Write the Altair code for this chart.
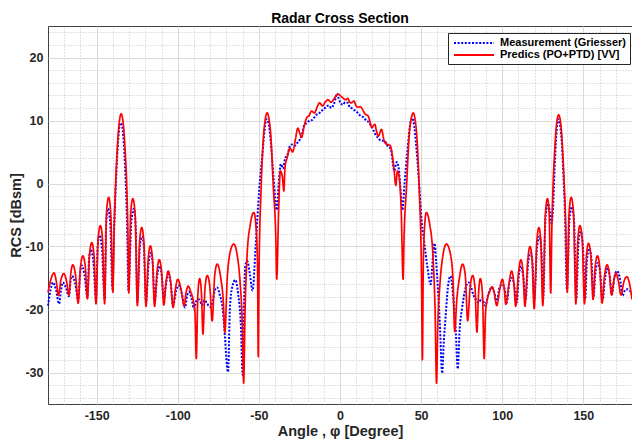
import altair as alt
import pandas as pd

MEAS = "Measurement (Griesser)"
PRED = "Predics (PO+PTD) [VV]"

# Predics (PO+PTD) [VV] -- angle [deg], RCS [dBsm]
red_angle = [
    -180.0, -178.2, -176.3, -174.9, -173.6, -172.0, -170.2, -168.5, -167.1, -165.9,
    -164.7, -163.0, -161.4, -160.0, -158.5, -157.0, -155.7, -154.4, -153.0, -151.6,
    -150.4, -149.1, -147.7, -146.4, -145.1, -143.9, -142.6, -141.3, -140.0, -139.2,
    -138.3, -137.3, -136.3, -134.9, -133.5, -132.5, -131.5, -130.8, -130.2, -129.0,
    -127.7, -126.3, -124.9, -123.5, -122.2, -120.9, -119.6, -118.2, -116.9, -115.6,
    -114.3, -112.8, -111.4, -110.0, -108.6, -107.2, -105.9, -104.4, -102.9, -101.5,
    -100.0, -98.0, -96.1, -94.8, -93.5, -92.0, -90.6, -89.4, -88.6, -87.6,
    -86.5, -85.4, -84.5, -83.2, -81.8, -80.2, -78.8, -77.2, -75.7, -73.5,
    -72.0, -71.0, -69.5, -67.8, -65.5, -63.3, -61.5, -60.2, -59.4, -58.5,
    -57.3, -55.3, -53.1, -51.6, -50.8, -50.4, -49.9, -48.6, -47.2, -46.0,
    -44.9, -43.8, -42.7, -41.1, -39.6, -39.0, -37.8, -36.8, -35.6, -34.6,
    -33.9, -32.5, -30.8, -29.2, -27.5, -26.0, -24.8, -23.7, -22.0, -20.6,
    -19.0, -17.6, -15.7, -14.0, -12.5, -10.8, -8.9, -7.4, -5.6, -4.3,
    -2.8, -1.3, 0.0, 0.8, 2.2, 3.5, 4.8, 6.0, 6.9, 8.5,
    10.0, 11.0, 12.5, 14.0, 15.0, 16.1, 17.1, 18.1, 19.5, 21.5,
    22.5, 23.6, 25.6, 27.0, 28.3, 29.5, 31.0, 32.5, 33.4, 34.4,
    35.4, 36.5, 37.7, 38.9, 39.5, 41.0, 42.7, 43.9, 45.2, 46.2,
    47.4, 48.8, 50.2, 50.8, 51.3, 52.0, 53.2, 55.3, 57.3, 58.6,
    59.5, 60.3, 61.6, 63.4, 65.6, 67.9, 69.6, 70.7, 72.0, 73.6,
    75.6, 77.2, 78.7, 80.2, 81.8, 83.2, 84.4, 85.4, 86.5, 87.8,
    88.9, 89.7, 90.8, 92.2, 93.6, 95.0, 96.6, 98.5, 100.1, 101.2,
    102.2, 104.3, 105.8, 107.1, 108.3, 110.1, 111.5, 112.8, 114.0, 115.8,
    117.1, 118.4, 119.7, 121.3, 122.6, 123.8, 125.0, 126.6, 127.9, 128.9,
    129.9, 130.6, 131.4, 132.4, 133.4, 134.8, 136.2, 137.2, 138.2, 139.2,
    140.1, 141.2, 142.5, 143.9, 145.4, 146.6, 147.9, 149.3, 150.7, 151.9,
    153.2, 154.6, 156.0, 157.3, 158.7, 160.1, 161.5, 163.1, 164.6, 166.0,
    167.4, 168.7, 170.1, 171.6, 173.2, 175.0, 176.8, 178.4, 180.0,
]
red_rcs = [
    -17.3, -15.2, -14.2, -15.5, -17.8, -15.3, -14.3, -15.6, -17.7, -14.2,
    -12.9, -14.6, -19.0, -13.3, -11.5, -13.2, -18.3, -11.3, -9.4, -11.5,
    -19.1, -8.8, -6.7, -9.0, -19.1, -4.5, -2.2, -4.8, -17.3, -7.0,
    0.0, 5.5, 9.2, 11.05, 9.2, 5.5, 0.0, -7.0, -17.4, -4.6,
    -2.4, -4.9, -19.4, -9.2, -7.0, -9.3, -19.5, -11.9, -9.9, -12.0,
    -19.5, -14.0, -12.1, -14.0, -19.3, -15.6, -13.9, -15.6, -19.7, -16.8,
    -15.2, -16.8, -19.4, -17.2, -16.3, -17.2, -18.4, -20.5, -27.8, -17.5,
    -15.1, -17.5, -23.9, -16.5, -14.6, -16.5, -21.8, -14.5, -12.8, -15.0,
    -18.5, -23.6, -15.0, -11.0, -9.6, -11.5, -16.0, -22.5, -31.7, -20.0,
    -11.5, -6.5, -4.6, -7.5, -14.0, -27.5, -14.0, -0.6, 7.3, 10.3,
    11.2, 10.3, 7.8, -0.6, -8.4, -15.2, -4.0, 2.0, 1.2, -1.2,
    2.5, 4.2, 5.6, 5.0, 7.0, 8.8, 8.0, 7.3, 9.2, 10.4,
    10.8, 11.5, 11.2, 12.2, 12.8, 12.3, 13.0, 13.3, 12.9, 13.2,
    13.8, 14.2, 14.0, 13.8, 13.5, 13.3, 13.5, 12.9, 12.8, 13.1,
    12.3, 12.1, 12.2, 11.7, 11.2, 10.9, 10.8, 10.2, 8.9, 9.4,
    8.3, 7.5, 8.6, 7.0, 6.3, 6.2, 6.0, 4.0, 2.0, -0.3,
    2.0, 1.0, -4.0, -15.2, -8.4, -0.6, 7.8, 10.3, 11.2, 10.3,
    7.3, -0.6, -14.0, -28.0, -14.0, -7.5, -4.6, -6.5, -11.5, -20.0,
    -31.7, -22.5, -16.0, -11.5, -9.6, -11.0, -15.0, -23.5, -18.5, -15.0,
    -12.8, -14.5, -21.8, -16.5, -14.6, -16.5, -23.6, -17.5, -15.1, -17.5,
    -27.8, -20.5, -18.4, -17.2, -16.4, -17.2, -19.4, -16.8, -15.2, -16.6,
    -19.2, -15.6, -13.9, -15.6, -19.5, -14.0, -12.1, -14.0, -19.5, -12.0,
    -10.0, -12.0, -19.9, -9.3, -7.0, -9.2, -19.4, -4.9, -2.4, -4.6,
    -17.4, -7.0, 0.0, 5.5, 9.2, 10.9, 9.2, 5.5, 0.0, -7.0,
    -17.3, -4.8, -2.2, -4.5, -19.1, -9.0, -6.7, -8.8, -19.1, -11.5,
    -9.5, -11.4, -18.4, -13.2, -11.5, -13.3, -19.0, -14.6, -12.9, -14.2,
    -17.7, -15.6, -14.2, -15.5, -17.7, -15.6, -14.8, -15.8, -18.4,
]

# Measurement (Griesser) -- angle [deg], RCS [dBsm]
blue_angle = [
    -180.0, -178.5, -176.9, -175.0, -173.2, -172.0, -170.8, -169.0, -167.1, -166.1,
    -165.1, -163.3, -161.4, -160.3, -159.2, -157.5, -155.7, -154.7, -153.6, -152.0,
    -150.4, -149.4, -148.3, -146.7, -145.1, -144.1, -143.0, -141.6, -140.2, -139.3,
    -138.3, -137.3, -136.4, -135.5, -134.5, -133.3, -132.3, -131.3, -130.4, -128.6,
    -127.1, -126.0, -124.9, -123.4, -122.0, -120.8, -119.6, -117.9, -116.5, -115.4,
    -114.3, -112.6, -111.0, -109.8, -108.6, -107.1, -105.7, -104.3, -102.9, -101.0,
    -99.5, -97.5, -95.5, -94.3, -93.1, -91.5, -90.0, -88.5, -86.9, -85.0,
    -83.5, -82.0, -80.3, -78.8, -77.2, -75.7, -74.0, -72.5, -71.6, -69.0,
    -67.9, -66.5, -64.5, -62.8, -61.2, -60.0, -59.2, -58.4, -57.2, -55.5,
    -53.9, -51.9, -49.8, -47.8, -46.5, -45.3, -44.0, -42.8, -41.0, -39.0,
    -37.8, -36.4, -35.2, -33.9, -32.3, -30.8, -29.8, -28.0, -26.5, -24.7,
    -23.3, -21.8, -20.2, -18.8, -17.0, -15.8, -14.5, -13.0, -11.5, -10.0,
    -8.5, -7.0, -5.4, -3.5, -1.7, -0.8, 0.3, 1.7, 3.2, 4.8,
    6.0, 6.9, 8.5, 9.9, 11.5, 13.0, 14.5, 16.1, 17.5, 19.1,
    20.5, 22.2, 23.8, 25.2, 27.3, 29.3, 31.4, 32.4, 33.4, 35.0,
    36.2, 37.2, 38.5, 39.8, 41.5, 43.6, 44.6, 45.8, 46.8, 48.5,
    50.5, 52.0, 53.8, 55.9, 57.2, 58.3, 59.3, 61.5, 63.0, 64.0,
    65.0, 66.5, 68.1, 70.1, 71.3, 72.6, 73.8, 75.2, 77.5, 79.3,
    80.8, 82.4, 84.0, 85.4, 87.5, 89.5, 91.5, 93.6, 95.0, 96.6,
    98.3, 100.1, 101.5, 102.8, 104.4, 105.8, 107.3, 108.9, 110.3, 111.5,
    113.0, 114.4, 116.0, 117.5, 118.7, 119.7, 121.5, 123.0, 124.1, 125.2,
    126.8, 128.3, 129.3, 130.3, 131.3, 132.3, 133.3, 134.4, 135.5, 136.6,
    137.6, 138.6, 139.9, 141.5, 143.0, 144.3, 145.6, 147.0, 148.3, 149.7,
    151.1, 152.3, 153.6, 155.0, 156.2, 157.5, 158.9, 160.4, 161.9, 163.5,
    165.0, 166.3, 167.6, 169.2, 170.7, 172.5, 174.2, 175.8, 177.2, 180.0,
]
blue_rcs = [
    -19.4, -17.0, -15.7, -17.0, -19.1, -17.0, -15.7, -16.5, -17.9, -15.5,
    -14.7, -15.8, -18.4, -14.5, -13.0, -14.5, -18.1, -12.0, -10.5, -12.5,
    -18.4, -10.0, -8.2, -10.5, -18.4, -6.0, -4.0, -6.5, -16.8, -8.0,
    -1.0, 4.5, 8.0, 9.6, 9.3, 6.5, 1.5, -6.0, -17.0, -6.0,
    -4.0, -6.5, -18.9, -10.0, -8.4, -10.5, -18.9, -12.5, -11.0, -12.8,
    -18.9, -14.5, -13.1, -14.8, -18.4, -15.6, -14.4, -16.0, -19.4, -17.0,
    -16.2, -17.5, -19.7, -17.8, -17.2, -18.3, -19.9, -18.6, -18.4, -19.3,
    -18.5, -19.0, -19.6, -19.1, -17.0, -16.5, -17.8, -19.5, -22.0, -29.9,
    -20.0, -16.5, -15.3, -17.5, -22.0, -30.4, -20.0, -13.1, -12.3, -14.5,
    -17.0, -9.5, -1.0, 4.7, 8.5, 10.2, 9.5, 7.0, 1.0, -4.2,
    0.0, 3.1, 2.4, 3.9, 4.6, 6.0, 6.2, 6.0, 6.4, 7.0,
    8.0, 9.4, 9.6, 10.0, 10.1, 10.5, 10.9, 11.1, 11.5, 11.8,
    12.2, 12.4, 12.0, 12.8, 14.3, 13.5, 12.8, 12.5, 12.9, 12.8,
    12.1, 12.0, 11.7, 11.5, 11.0, 10.7, 10.5, 10.0, 9.8, 9.2,
    8.5, 7.6, 7.2, 6.8, 6.8, 6.0, 5.4, 3.6, 2.0, 3.4,
    2.4, -0.5, -4.2, 0.0, 5.0, 9.9, 10.4, 9.0, 6.5, 1.0,
    -6.5, -9.5, -13.1, -16.0, -12.0, -9.5, -12.5, -22.0, -30.1, -25.0,
    -21.5, -16.5, -14.7, -18.9, -23.0, -29.4, -23.0, -19.9, -16.5, -15.7,
    -16.5, -17.8, -18.5, -18.9, -18.2, -19.4, -17.5, -16.5, -17.2, -18.9,
    -16.5, -16.0, -16.8, -18.9, -15.8, -15.0, -16.0, -18.9, -14.5, -13.1,
    -14.8, -18.4, -12.5, -11.0, -12.8, -18.6, -10.0, -8.4, -10.5, -18.4,
    -5.0, -3.2, -4.5, -6.3, -4.0, 2.5, 7.5, 10.2, 9.5, 7.0,
    2.0, -4.0, -16.8, -5.5, -3.7, -6.0, -18.4, -9.5, -7.6, -9.8,
    -18.4, -12.0, -10.3, -12.0, -18.1, -14.0, -12.6, -14.2, -18.4, -14.8,
    -13.4, -14.8, -17.6, -14.8, -13.9, -15.0, -17.8, -16.9, -16.8, -17.5,
]

x_major = [-150, -100, -50, 0, 50, 100, 150]
x_minor = [v for v in range(-170, 180, 10) if v % 50 != 0]
y_major = [-30, -20, -10, 0, 10, 20]
y_minor = [v for v in range(-34, 25, 2) if v % 10 != 0]

df = pd.concat([
    pd.DataFrame({"angle": blue_angle, "rcs": blue_rcs, "series": MEAS}),
    pd.DataFrame({"angle": red_angle, "rcs": red_rcs, "series": PRED}),
], ignore_index=True)

FONT = "Liberation Sans"
xs = alt.Scale(domain=[-180, 180], nice=False, zero=False)
ys = alt.Scale(domain=[-35, 25], nice=False, zero=False)


def make_legend():
    return alt.Legend(
        title=None, orient="none", legendX=400, legendY=7,
        symbolType="M-4,0L4,0", symbolSize=100, symbolStrokeWidth=2, symbolOffset=16,
        labelOffset=20,
        labelFont=FONT, labelFontSize=11, labelFontWeight="bold", labelColor="#000000",
        labelLimit=400, padding=4, rowPadding=1,
        fillColor="#ffffff", strokeColor="#262626",
    )


color = alt.Color(
    "series:N",
    scale=alt.Scale(domain=[MEAS, PRED], range=["#0000ff", "#ff0000"]),
    legend=make_legend(),
)
dash = alt.StrokeDash(
    "series:N",
    scale=alt.Scale(domain=[MEAS, PRED], range=[[2, 1.6], [1, 0]]),
    legend=make_legend(),
)

minor_x = alt.Axis(orient="top", values=x_minor, labels=False, ticks=False, domain=False,
                   grid=True, gridColor="#c4c4c4", gridDash=[1, 2], gridWidth=1, title=None)
minor_y = alt.Axis(orient="right", values=y_minor, labels=False, ticks=False, domain=False,
                   grid=True, gridColor="#c4c4c4", gridDash=[1, 2], gridWidth=1, title=None)
major_x = alt.Axis(orient="bottom", values=x_major, ticks=False, domain=False, grid=True,
                   gridColor="#dadada", gridWidth=1, title="Angle , φ  [Degree]",
                   labelExpr="'' + datum.value",
                   labelFont=FONT, labelFontSize=12.5, labelFontWeight="bold", labelColor="#262626",
                   labelPadding=5, titleFont=FONT, titleFontSize=14.5, titleFontWeight="bold",
                   titleColor="#262626", titlePadding=3)
major_y = alt.Axis(orient="left", values=y_major, ticks=False, domain=False, grid=True,
                   gridColor="#dadada", gridWidth=1, title="RCS [dBsm]",
                   labelExpr="'' + datum.value",
                   labelFont=FONT, labelFontSize=12.5, labelFontWeight="bold", labelColor="#262626",
                   labelPadding=5, titleFont=FONT, titleFontSize=14.5, titleFontWeight="bold",
                   titleColor="#262626", titlePadding=1)

base = alt.Chart(df)
blue = base.transform_filter(alt.datum.series == MEAS).mark_line(
    strokeWidth=2, interpolate="monotone"
).encode(
    x=alt.X("angle:Q", scale=xs, axis=minor_x),
    y=alt.Y("rcs:Q", scale=ys, axis=minor_y),
    color=color, strokeDash=dash,
)
red = base.transform_filter(alt.datum.series == PRED).mark_line(
    strokeWidth=1.7, interpolate="monotone"
).encode(
    x=alt.X("angle:Q", scale=xs, axis=major_x),
    y=alt.Y("rcs:Q", scale=ys, axis=major_y),
    color=color, strokeDash=dash,
)

chart = alt.layer(blue, red).resolve_axis(x="independent", y="independent").properties(
    width=584, height=378,
    padding={"left": 40, "top": 18, "right": 0, "bottom": 36},
    autosize=alt.AutoSizeParams(type="none"),
    title=alt.TitleParams("Radar Cross Section", font=FONT, fontSize=14, fontWeight="bold",
                          color="#000000", anchor="middle", offset=0),
    background="#ffffff",
).configure_view(stroke="#404040", strokeWidth=1)

chart.save("out.html", embed_options={"renderer": "svg", "actions": False})
